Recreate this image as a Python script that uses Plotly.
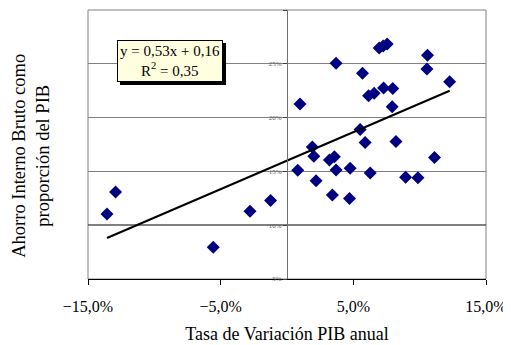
import plotly.graph_objects as go
import numpy as np

# Data (fractions): GDP annual growth vs gross domestic savings share of GDP
growth = [-0.1357, -0.1292, -0.0556, -0.0279, -0.0124, 0.0081, 0.0098, 0.0191, 0.0202,
          0.0219, 0.0320, 0.0357, 0.0370, 0.0342, 0.0370, 0.0476, 0.0471, 0.0551,
          0.0569, 0.0589, 0.0627, 0.0615, 0.0657, 0.0695, 0.0725, 0.0755, 0.0728,
          0.0797, 0.0793, 0.0821, 0.0894, 0.0987, 0.1059, 0.1055, 0.1112, 0.1226]
savings = [0.1103, 0.1309, 0.0796, 0.1130, 0.1229, 0.1510, 0.2127, 0.1727, 0.1640,
           0.1413, 0.1606, 0.1637, 0.1513, 0.1281, 0.2505, 0.1529, 0.1249, 0.1889,
           0.2412, 0.1768, 0.1485, 0.2204, 0.2226, 0.2647, 0.2665, 0.2684, 0.2275,
           0.2270, 0.2101, 0.1778, 0.1445, 0.1442, 0.2579, 0.2452, 0.1630, 0.2333]

slope = 0.53
intercept = 0.16
eq_text = "y = 0,53x + 0,16<br>R<sup>2</sup> = 0,35"

x_ticks = [-0.15, -0.05, 0.05, 0.15]
y_ticks = [0.05, 0.10, 0.15, 0.20, 0.25, 0.30]
y_tick_text = ["5%", "10%", "15%", "20%", "25%", "30%"]

x_title = "Tasa de Variación PIB anual"
y_title = "Ahorro Interno Bruto como<br>proporción del PIB"

serif = "Liberation Serif, Times New Roman, serif"

trend_x = np.array([min(growth), max(growth)])
trend_y = slope * trend_x + intercept

fig = go.Figure()
fig.add_trace(go.Scatter(
    x=growth, y=savings, mode="markers",
    marker=dict(symbol="diamond", size=10, color="#000080", line=dict(width=0)),
    showlegend=False, hoverinfo="skip"))
fig.add_trace(go.Scatter(
    x=trend_x, y=trend_y, mode="lines",
    line=dict(color="black", width=2), showlegend=False, hoverinfo="skip"))

# frame of the plot area
fig.add_shape(type="rect", xref="paper", yref="paper", x0=0, x1=1, y0=0, y1=1,
              line=dict(color="#808080", width=1), layer="below")
# darker 10% line
fig.add_shape(type="line", xref="paper", yref="y", x0=0, x1=1, y0=0.10, y1=0.10,
              line=dict(color="black", width=1.2), layer="below")

# equation box (shadow + box)
eq_font = dict(family=serif, size=15, color="black")
for shift, bg in ((3, "black"), (0, "#ffffe0")):
    fig.add_annotation(x=0.206, y=0.809, xref="paper", yref="paper", text=eq_text,
                       showarrow=False, font=eq_font, bgcolor=bg,
                       xanchor="center", yanchor="middle",
                       bordercolor="black", borderwidth=1, borderpad=2,
                       xshift=shift, yshift=-shift)

# page body has an 8px margin -> figure is 503x337 placed at (8, 8)
fig.update_layout(
    width=503, height=337,
    margin=dict(l=80, r=25, t=2, b=66, autoexpand=False),
    paper_bgcolor="white", plot_bgcolor="white",
    separators=",.",
    font=dict(family=serif, color="black"),
    xaxis=dict(range=[-0.15, 0.15], tickvals=x_ticks, tickformat=".1%",
               showgrid=False, zeroline=False, showline=True, linecolor="black",
               linewidth=1, ticks="outside", ticklen=5, tickcolor="black",
               automargin=False, ticklabelstandoff=8,
               tickfont=dict(family=serif, size=16),
               title=dict(text=x_title, font=dict(family=serif, size=18), standoff=13)),
    yaxis=dict(range=[0.05, 0.30], tickvals=y_ticks, ticktext=y_tick_text,
               anchor="free", position=0.5, showgrid=True, gridcolor="#808080",
               gridwidth=1, zeroline=False, showline=True, linecolor="#707070",
               ticks="outside", ticklen=4, tickcolor="#404040", automargin=False,
               tickfont=dict(family=serif, size=7, color="#606060"),
               ticklabelstandoff=0),
)
# y-axis title as annotation (axis is placed at x=0)
fig.add_annotation(x=-0.142, y=0.46, xref="paper", yref="paper", text=y_title,
                   showarrow=False, textangle=-90, xanchor="center", yanchor="middle",
                   font=dict(family=serif, size=18.5, color="black"))

fig.write_html("out.html")
